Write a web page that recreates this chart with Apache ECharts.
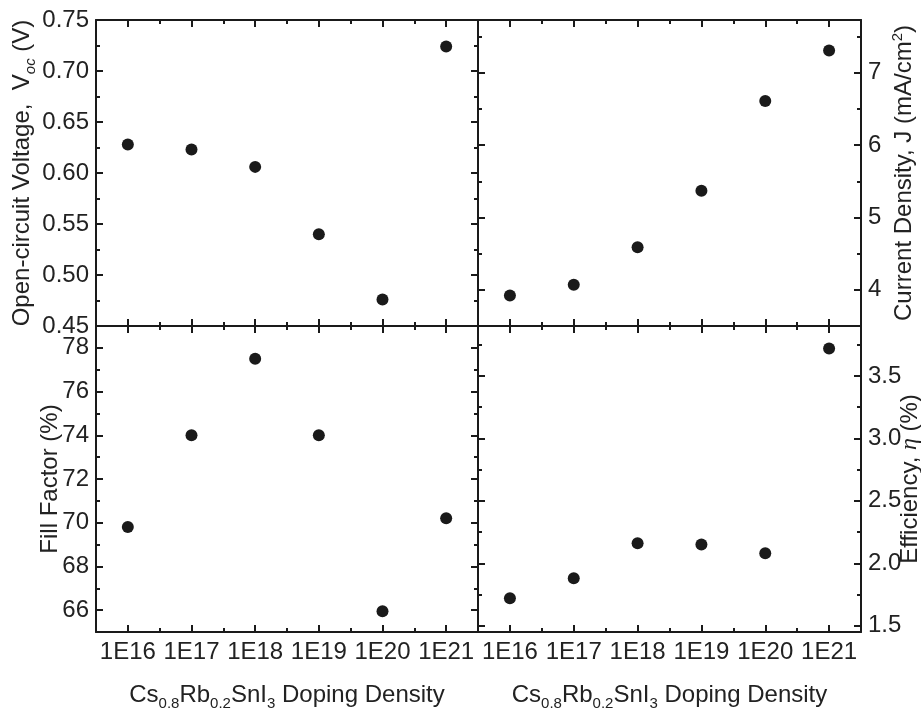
<!DOCTYPE html>
<html>
<head>
<meta charset="utf-8">
<script src="https://cdn.jsdelivr.net/npm/echarts@6/dist/echarts.min.js"></script>
<style>
  html, body { margin: 0; padding: 0; background: #fff; }
  #chart { width: 921px; height: 708px; }
</style>
</head>
<body>
<div id="chart"></div>
<script>
// doping density categories
const categories = ['1E16', '1E17', '1E18', '1E19', '1E20', '1E21'];

// values
const vocValues = [0.628, 0.623, 0.606, 0.540, 0.476, 0.724];
const jValues = [3.92, 4.07, 4.59, 5.37, 6.61, 7.31];
const ffValues = [69.8, 74.0, 77.5, 74.0, 65.95, 70.2];
const effValues = [1.72, 1.88, 2.16, 2.15, 2.08, 3.72];

// tick values (major with labels, minor without)
const vocTicks = [0.45, 0.50, 0.55, 0.60, 0.65, 0.70, 0.75];
const vocMinor = [0.475, 0.525, 0.575, 0.625, 0.675, 0.725];
const jTicks = [4, 5, 6, 7];
const jMinor = [3.5, 4.5, 5.5, 6.5, 7.5];
const ffTicks = [66, 68, 70, 72, 74, 76, 78];
const ffMinor = [65, 67, 69, 71, 73, 75, 77, 79];
const effTicks = [1.5, 2.0, 2.5, 3.0, 3.5];
const effMinor = [1.75, 2.25, 2.75, 3.25, 3.75];

const FONT = '"Liberation Sans", Arial, Helvetica, sans-serif';
const INK = '#1a1a1a';
const lineStyle = { color: INK, width: 2 };

const subStyle = { fontSize: 15, fontFamily: FONT, color: '#222', padding: [16, 0, 0, 0] };
const titleStyle = {
  fontSize: 24, fontFamily: FONT, color: '#222',
  rich: {
    sub: subStyle,
    isub: Object.assign({}, subStyle, { fontStyle: 'italic' }),
    sup: { fontSize: 15, fontFamily: FONT, color: '#222', padding: [0, 0, 14, 0] },
    eta: { fontSize: 24, fontFamily: '"Liberation Serif", "DejaVu Serif", serif', fontStyle: 'italic', color: '#222' }
  }
};
const xTitle = 'Cs{sub|0.8}Rb{sub|0.2}SnI{sub|3} Doping Density';

const panels = [
  { left: 96, top: 20, width: 382, data: vocValues, min: 0.45, max: 0.75, major: vocTicks, minor: vocMinor,
    side: 'left', digits: 2, xLabels: false, name: 'Open-circuit Voltage,  V{isub|oc} (V)', nameGap: 58 },
  { left: 478, top: 20, width: 383, data: jValues, min: 3.5, max: 7.73, major: jTicks, minor: jMinor,
    side: 'right', digits: 0, xLabels: false, name: 'Current Density, J (mA/cm{sup|2})', nameGap: 29 },
  { left: 96, top: 326, width: 382, data: ffValues, min: 65, max: 79, major: ffTicks, minor: ffMinor,
    side: 'left', digits: 0, xLabels: true, name: 'Fill Factor (%)', nameGap: 34 },
  { left: 478, top: 326, width: 383, data: effValues, min: 1.45, max: 3.9, major: effTicks, minor: effMinor,
    side: 'right', digits: 1, xLabels: true, name: 'Efficiency, {eta|η} (%)', nameGap: 37 }
];

function catAxis(grid, pos, major, withLabels) {
  return {
    type: 'category', gridIndex: grid, position: pos, data: categories, boundaryGap: true,
    axisLine: { show: major, onZero: false, lineStyle: lineStyle },
    axisTick: { show: true, inside: true, alignWithLabel: major, interval: 0, length: major ? 7 : 4, lineStyle: lineStyle },
    axisLabel: { show: withLabels, interval: 0, margin: 8, color: '#222', fontSize: 24, fontFamily: FONT },
    splitLine: { show: false },
    name: withLabels ? xTitle : '', nameLocation: 'middle', nameGap: 48, nameTextStyle: titleStyle,
    nameMoveOverlap: false
  };
}

function valAxis(grid, p, pos, ticks, major, withLabels) {
  return {
    type: 'value', gridIndex: grid, position: pos, min: p.min, max: p.max,
    axisLine: { show: major, onZero: false, lineStyle: lineStyle },
    axisTick: { show: true, inside: true, length: major ? 7 : 4, customValues: ticks, lineStyle: lineStyle },
    axisLabel: {
      show: withLabels, customValues: ticks, margin: 7, color: '#222', fontSize: 24, fontFamily: FONT,
      formatter: v => Number(v).toFixed(p.digits)
    },
    splitLine: { show: false },
    name: withLabels ? p.name : '', nameLocation: 'middle', nameRotate: 90, nameGap: p.nameGap,
    nameTextStyle: titleStyle, nameMoveOverlap: false
  };
}

const grids = [], xAxes = [], yAxes = [], series = [];

panels.forEach((p, i) => {
  grids.push({ left: p.left, top: p.top, width: p.width, height: 306, outerBoundsMode: 'none' });
  const xBase = xAxes.length;
  xAxes.push(catAxis(i, 'bottom', true, p.xLabels));
  xAxes.push(catAxis(i, 'bottom', false, false));
  xAxes.push(catAxis(i, 'top', true, false));
  xAxes.push(catAxis(i, 'top', false, false));
  const yBase = yAxes.length;
  ['left', 'right'].forEach(pos => {
    yAxes.push(valAxis(i, p, pos, p.major, true, pos === p.side));
    yAxes.push(valAxis(i, p, pos, p.minor, false, false));
  });
  series.push({
    type: 'scatter', xAxisIndex: xBase, yAxisIndex: yBase, symbol: 'circle', symbolSize: 12,
    itemStyle: { color: INK, opacity: 1 }, silent: true,
    data: p.data.map((v, k) => [categories[k], v])
  });
});

const myChart = echarts.init(document.getElementById('chart'));
myChart.setOption({
  animation: false,
  backgroundColor: '#fff',
  grid: grids,
  xAxis: xAxes,
  yAxis: yAxes,
  series: series
});
window.addEventListener('resize', () => { myChart.resize(); });
</script>
</body>
</html>
